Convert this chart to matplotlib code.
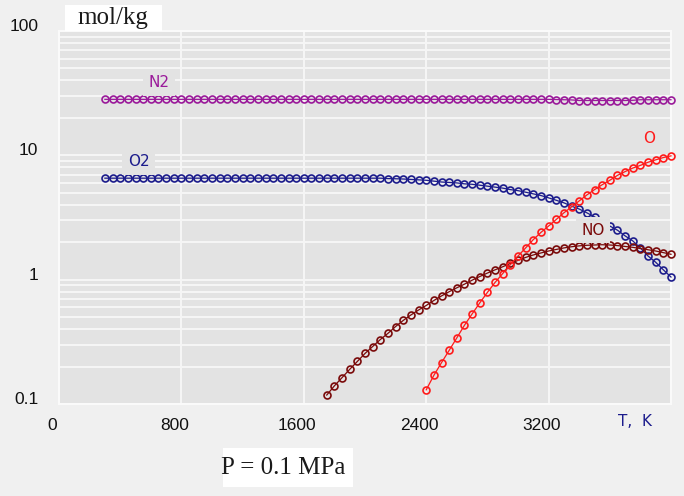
import matplotlib
matplotlib.use('Agg')
import matplotlib.pyplot as plt
import matplotlib.transforms as mtransforms
from matplotlib.patches import Rectangle
from matplotlib.ticker import LogLocator, NullFormatter

# ---------------- data ----------------
temperature = list(range(300, 4001, 50))   # K, grid of calculation points

n2 = [
    28.2, 28.2, 28.2, 28.2, 28.2, 28.2, 28.2, 28.2, 28.2, 28.2,
    28.2, 28.2, 28.2, 28.2, 28.2, 28.2, 28.2, 28.2, 28.2, 28.2,
    28.2, 28.2, 28.2, 28.2, 28.2, 28.2, 28.2, 28.2, 28.2, 28.2,
    28.2, 28.2, 28.2, 28.2, 28.2, 28.2, 28.2, 28.2, 28.2, 28.2,
    28.2, 28.2, 28.2, 28.2, 28.2, 28.2, 28.2, 28.2, 28.2, 28.2,
    28.2, 28.2, 28.2, 28.2, 28.2, 28.2, 28.2, 28.2, 28.2, 28.1,
    28.0, 27.9, 27.6, 27.6, 27.6, 27.6, 27.6, 27.6, 27.6, 27.7,
    28.0, 28.0, 28.0, 28.0, 28.0]

o2 = [
    6.55, 6.55, 6.55, 6.55, 6.55, 6.55, 6.55, 6.55, 6.55, 6.55,
    6.55, 6.55, 6.55, 6.55, 6.55, 6.55, 6.55, 6.55, 6.55, 6.55,
    6.55, 6.55, 6.55, 6.55, 6.55, 6.55, 6.55, 6.55, 6.55, 6.55,
    6.55, 6.55, 6.55, 6.55, 6.55, 6.55, 6.55,
    6.5, 6.48, 6.45, 6.4, 6.35, 6.3, 6.2, 6.1, 6.05, 6.0,
    5.9, 5.85, 5.75, 5.65, 5.55, 5.45, 5.3, 5.2, 5.05, 4.9,
    4.75, 4.55, 4.35, 4.15, 3.9, 3.7, 3.45, 3.2, 2.95, 2.7,
    2.5, 2.25, 2.05, 1.8, 1.55, 1.38, 1.2, 1.05]

o_atom = [
    0.13, 0.17, 0.215, 0.27, 0.34, 0.43, 0.53, 0.65, 0.79, 0.95,
    1.12, 1.32, 1.55, 1.8, 2.1, 2.4, 2.7, 3.05, 3.45, 3.85,
    4.3, 4.8, 5.3, 5.8, 6.3, 6.9, 7.4, 7.9, 8.3, 8.8,
    9.2, 9.6, 9.9]

no = [
    0.118, 0.14, 0.163, 0.19, 0.22, 0.255, 0.29, 0.33, 0.37, 0.42,
    0.47, 0.52, 0.57, 0.62, 0.68, 0.74, 0.8, 0.86, 0.92, 0.99,
    1.06, 1.13, 1.2, 1.27, 1.35, 1.43, 1.51, 1.58, 1.64, 1.7,
    1.75, 1.8, 1.84, 1.87, 1.89, 1.9, 1.91, 1.9, 1.88, 1.85,
    1.82, 1.78, 1.74, 1.7, 1.65, 1.6]

x_ticks = [0, 800, 1600, 2400, 3200]
x_tick_labels = ['0', '800', '1600', '2400', '3200']
y_ticks = [0.1, 1, 10, 100]
y_tick_labels = ['0.1', '1', '10', '100']

series = [
    ('N2', n2, '#9a1a9a', 651, 38.3),
    ('O2', o2, '#1c1c8c', 521, 8.87),
    ('NO', no, '#7a0a0a', 3490, 2.5),
    ('O', o_atom, '#ff1a1a', 3857, 13.6),
]

# ---------------- figure ----------------
W, H = 684, 496
fig = plt.figure(figsize=(W / 100, H / 100), dpi=100, facecolor='#f0f0f0')
ax = fig.add_axes([59 / W, 1 - 404 / H, 612 / W, 373 / H])
ax.set_facecolor('#e3e3e3')
ax.set_yscale('log')
ax.set_xlim(0, 4000)
ax.set_ylim(0.1, 100)

ax.set_xticks(x_ticks)
ax.set_xticklabels(x_tick_labels)
ax.set_yticks(y_ticks)
ax.set_yticklabels(y_tick_labels)
ax.yaxis.set_minor_locator(LogLocator(base=10, subs=range(2, 10)))
ax.yaxis.set_minor_formatter(NullFormatter())

ax.grid(which='both', axis='both', color='#f6f6f6', lw=1.4, zorder=0)
ax.set_axisbelow(True)
ax.tick_params(which='both', length=0)
ax.tick_params(axis='x', pad=10, labelsize=12.5, labelcolor='#111111')
ax.tick_params(axis='y', pad=15, labelsize=12.5, labelcolor='#111111')
for sp in ax.spines.values():
    sp.set_color('#fafafa')
    sp.set_linewidth(1.5)

for lbl in ax.get_xticklabels():
    lbl.set_fontfamily('Liberation Sans')
    lbl.set_transform(lbl.get_transform() +
                      mtransforms.ScaledTranslation(-0.07, 0, fig.dpi_scale_trans))
for lbl in ax.get_yticklabels():
    lbl.set_fontfamily('Liberation Sans')
    lbl.set_transform(lbl.get_transform() +
                      mtransforms.ScaledTranslation(0, 0.06, fig.dpi_scale_trans))

for name, vals, color, lx, ly in series:
    xs = temperature[-len(vals):]
    ax.plot(xs, vals, color=color, lw=0.9, marker='o', ms=5.0,
            mfc='none', mec=color, mew=1.2, zorder=3, clip_on=False)

for name, vals, color, lx, ly in series:
    ax.text(lx, ly, name, color=color, fontsize=11, fontfamily='DejaVu Sans',
            ha='center', va='center', zorder=5,
            bbox=dict(facecolor='#e3e3e3', edgecolor='none', pad=4))

# axis title texts
fig.text(635 / W, 1 - 422 / H, 'T,  K', color='#1c1c8c', fontsize=11,
         fontfamily='DejaVu Sans', ha='center', va='center')

fig.patches.append(Rectangle((65 / W, 1 - 31 / H), 97 / W, 26 / H,
                             transform=fig.transFigure, facecolor='white',
                             edgecolor='none', zorder=1))
fig.text(113 / W, 1 - 18 / H, 'mol/kg', fontsize=18, fontfamily='Liberation Serif',
         color='#1a1a1a', ha='center', va='center', zorder=2)

fig.patches.append(Rectangle((223 / W, 1 - 487 / H), 130 / W, 39 / H,
                             transform=fig.transFigure, facecolor='white',
                             edgecolor='none', zorder=1))
fig.text(283 / W, 1 - 468 / H, 'P = 0.1 MPa', fontsize=18, fontfamily='Liberation Serif',
         color='#1a1a1a', ha='center', va='center', zorder=2)

fig.savefig('out.png', dpi=100, facecolor=fig.get_facecolor())
